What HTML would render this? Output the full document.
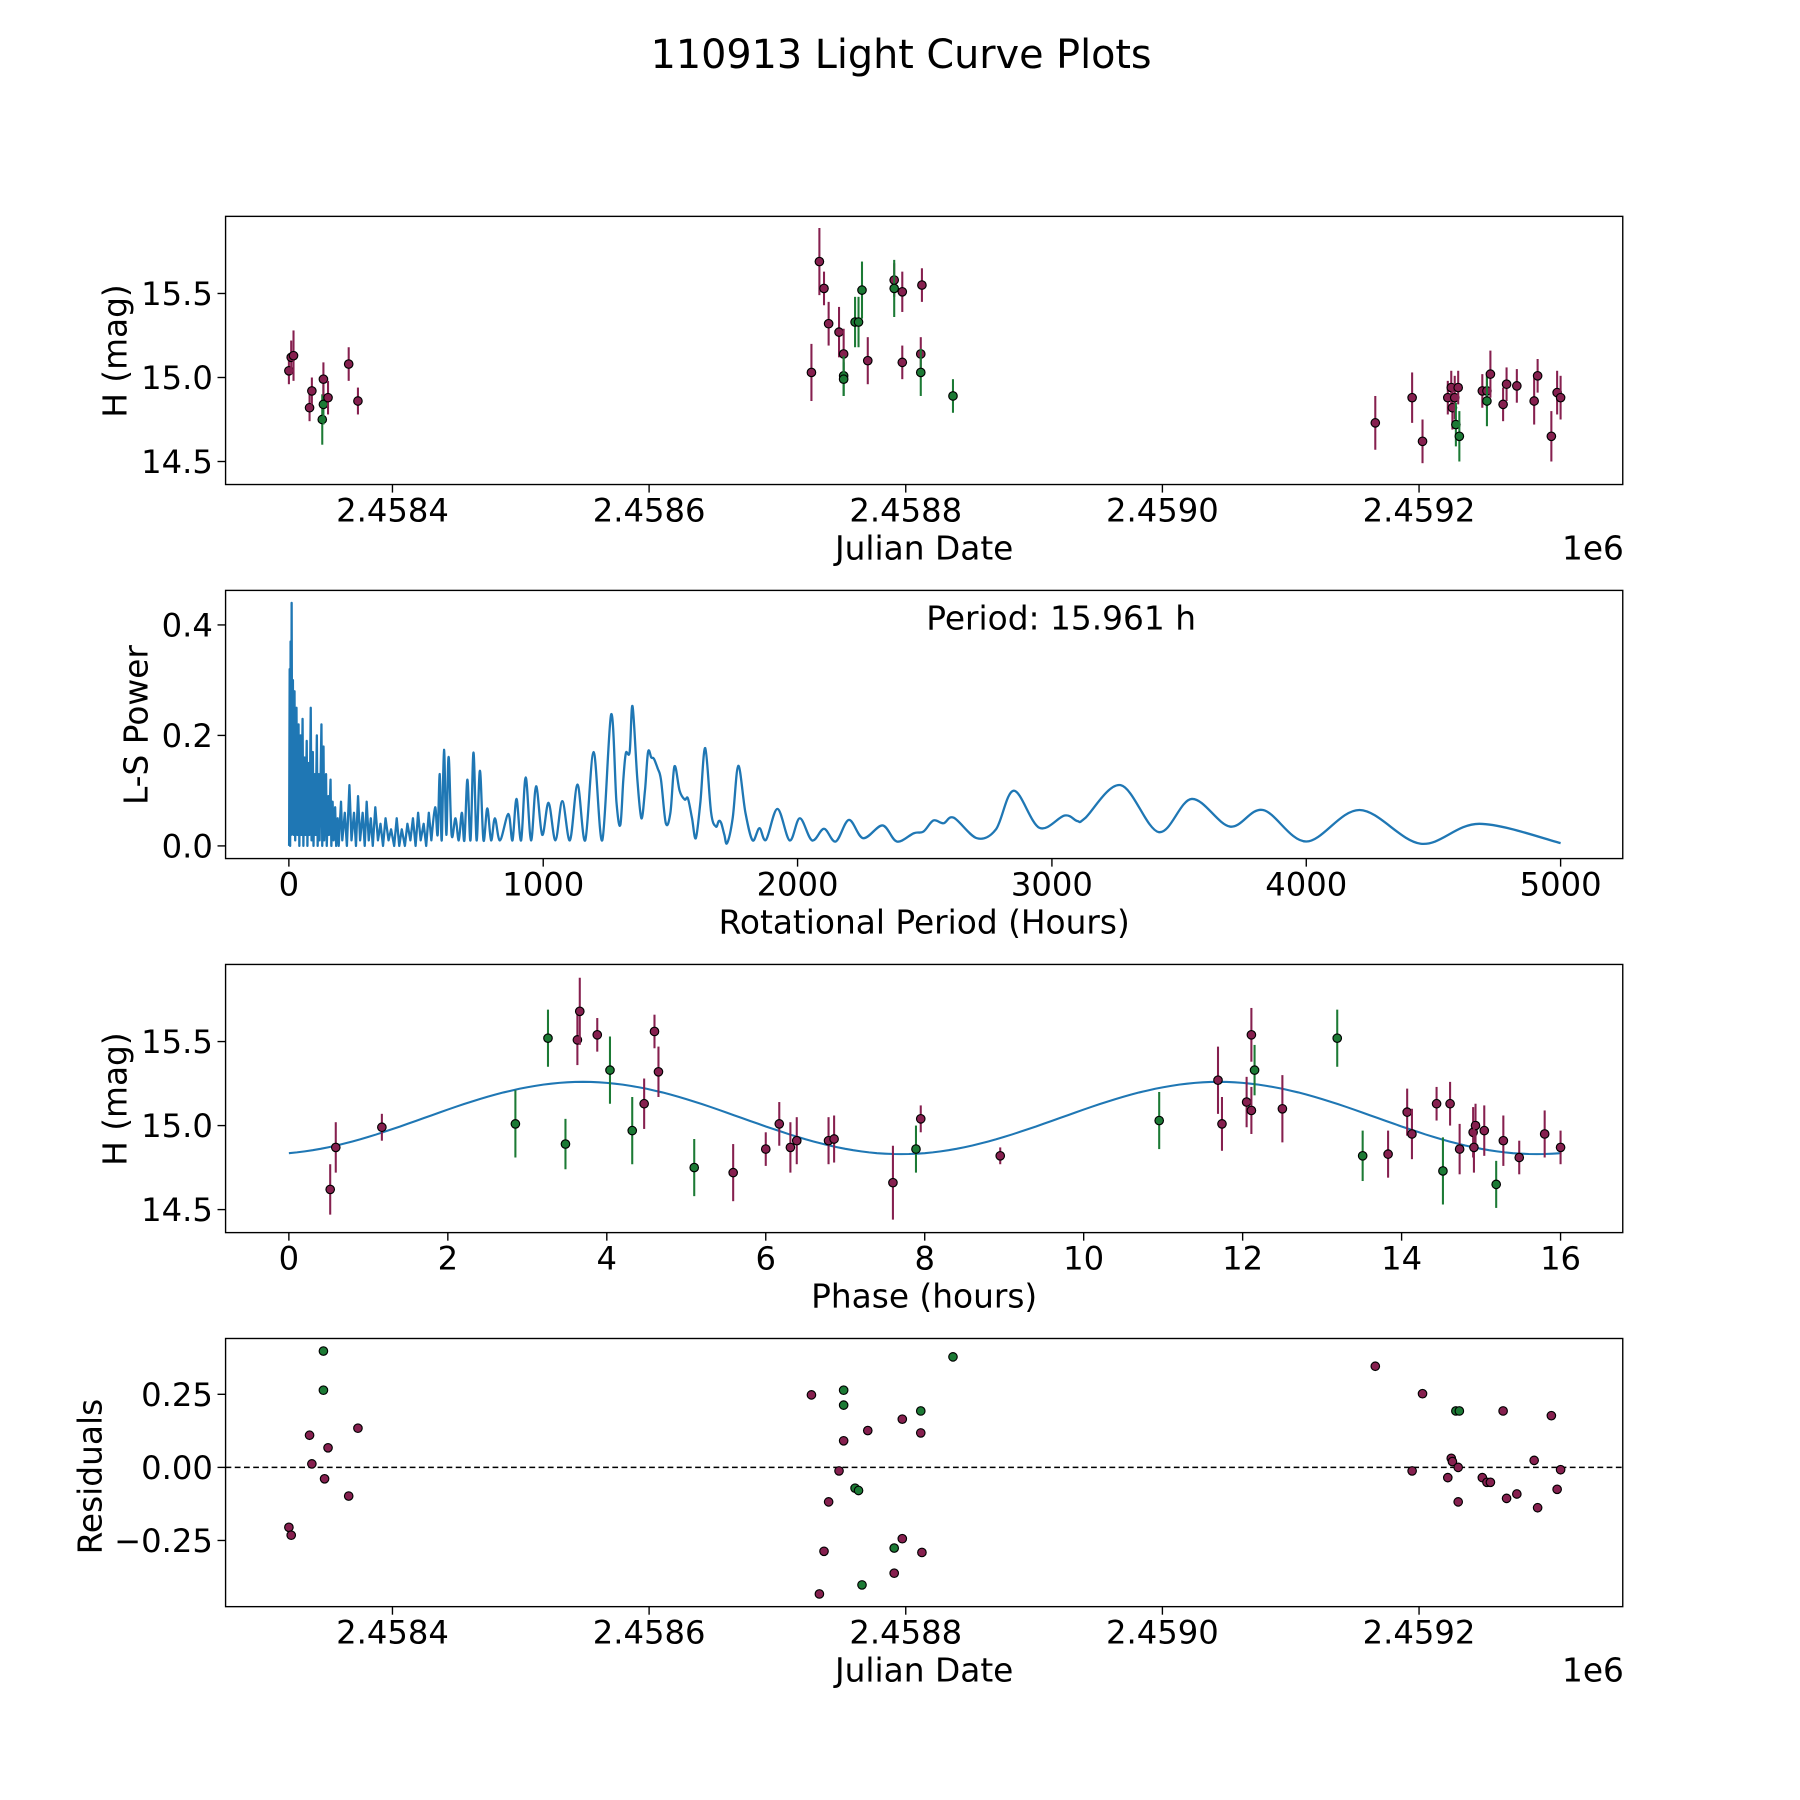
<!DOCTYPE html>
<html><head><meta charset="utf-8"><title>110913 Light Curve Plots</title>
<style>
html,body{margin:0;padding:0;background:#fff;}
svg{display:block;font-family:"DejaVu Sans","Liberation Sans",sans-serif;}
</style></head>
<body>
<svg id="fig" width="1800" height="1800" viewBox="0 0 1564 1564" xmlns="http://www.w3.org/2000/svg">
<rect x="0" y="0" width="1564" height="1564" fill="#fff"/>
<text x="783" y="59" font-size="34.5" text-anchor="middle">110913 Light Curve Plots</text>
<g id="p1"></g>
<g id="p2"></g>
<g id="p3"></g>
<g id="p4"></g>
</svg>
<script>
// ---- light curve data (JD - 2458000) ----
const jdDays=[319.3,321.1,322.9,335.4,337.2,345.3,346.2,346.2,349.8,365.9,373.1,
726.5,732.7,736.3,739.9,748.0,751.6,751.6,751.6,760.5,763.2,765.9,770.4,791.0,791.0,797.3,797.3,811.7,812.6,811.7,836.8,
1165.9,1194.6,1202.7,1222.4,1225.1,1226.0,1227.8,1228.7,1230.5,1231.4,1249.3,1252.9,1252.9,1255.6,1265.5,1268.2,1276.2,1289.7,1292.4,1303.1,1307.6,1310.3];
const hMag=[15.04,15.12,15.13,14.82,14.92,14.75,14.84,14.99,14.88,15.08,14.86,
15.03,15.69,15.53,15.32,15.27,15.14,15.01,14.99,15.33,15.33,15.52,15.10,15.58,15.53,15.51,15.09,15.14,15.55,15.03,14.89,
14.73,14.88,14.62,14.88,14.94,14.82,14.88,14.72,14.94,14.65,14.92,14.92,14.86,15.02,14.84,14.96,14.95,14.86,15.01,14.65,14.91,14.88];
const hErr=[0.08,0.1,0.15,0.08,0.08,0.15,0.12,0.1,0.1,0.1,0.08,
0.17,0.2,0.1,0.13,0.15,0.15,0.12,0.1,0.15,0.15,0.17,0.14,0.1,0.17,0.12,0.1,0.1,0.1,0.14,0.1,
0.16,0.15,0.13,0.1,0.1,0.13,0.13,0.13,0.1,0.15,0.1,0.1,0.15,0.14,0.1,0.1,0.1,0.14,0.1,0.15,0.13,0.13];
const hFilter=['m','m','m','m','m','g','g','m','m','m','m',
'm','m','m','m','m','m','g','g','g','g','g','m','m','g','m','m','m','m','g','g',
'm','m','m','m','m','m','m','g','m','g','m','m','g','m','m','m','m','m','m','m','m','m'];
// ---- periodogram (hours, power) ----
const lsPeriod=[1,3,5,7,9,11,13,16,18,22,25,30,33,38,41,46,49,54,57,62,65,70,73,78,81,86,89,94,97,102,105,110,113,118,121,128,131,136,139,146,149,155,158,164,167,172,176,182,186,192,196,
205,210,220,228,238,246,256,264,272,280,290,298,306,314,322,330,340,350,360,370,380,392,402,414,424,434,444,456,466,478,488,498,508,518,530,540,550];
const lsPower=[0.0,0.32,0.0,0.37,0.02,0.44,0.05,0.3,0.02,0.28,0.01,0.25,0.02,0.22,0.0,0.2,0.02,0.23,0.0,0.16,0.02,0.19,0.0,0.15,0.02,0.25,0.01,0.17,0.0,0.13,0.02,0.2,0.0,0.13,0.01,0.22,0.0,0.18,0.01,0.13,0.0,0.09,0.02,0.12,0.0,0.08,0.01,0.07,0.0,0.05,0.0,
0.08,0.01,0.06,0.0,0.11,0.01,0.06,0.0,0.09,0.01,0.06,0.0,0.08,0.01,0.05,0.0,0.07,0.01,0.04,0.0,0.05,0.01,0.03,0.0,0.05,0.0,0.03,0.0,0.04,0.01,0.05,0.0,0.06,0.01,0.04,0.0,0.06];
const lsSmoothPeriod=[560,575,585,593,601,610,619,628,640,655,668,680,690,702,714,726,738,751,765,780,795,810,830,863,879,895,913,931,952,972,996,1021,1048,1075,1105,1135,1165,1198,1232,1267,1288,1303,1315,1325,1340,1351,1370,1386,1400,1412,1425,1435,1450,1463,1482,1500,1516,1536,1556,1569,1585,1600,1618,1637,1660,1679,1690,1700,1712,1723,1745,1767,1795,1823,1850,1876,1921,1969,2009,2057,2104,2150,2202,2258,2334,2390,2457,2495,2534,2574,2614,2705,2780,2850,2950,3050,3100,3130,3270,3420,3550,3700,3830,4000,4210,4450,4680,5000];
const lsSmoothPower=[0.01,0.07,0.02,0.13,0.01,0.174,0.02,0.161,0.02,0.05,0.01,0.06,0.01,0.12,0.01,0.169,0.01,0.136,0.01,0.068,0.01,0.05,0.01,0.058,0.01,0.085,0.01,0.124,0.01,0.108,0.02,0.078,0.01,0.081,0.01,0.111,0.01,0.17,0.01,0.238,0.08,0.038,0.12,0.168,0.17,0.253,0.12,0.05,0.1,0.17,0.16,0.158,0.14,0.12,0.041,0.06,0.144,0.1,0.084,0.086,0.05,0.014,0.08,0.177,0.06,0.035,0.045,0.041,0.02,0.005,0.05,0.145,0.06,0.01,0.032,0.011,0.067,0.01,0.05,0.01,0.031,0.008,0.047,0.014,0.037,0.008,0.023,0.026,0.046,0.041,0.051,0.014,0.03,0.10,0.033,0.055,0.045,0.05,0.11,0.025,0.085,0.035,0.065,0.008,0.065,0.004,0.04,0.005];
const periodText="Period: 15.961 h";
// ---- phase folded ----
const phaseHrs=[0.52,0.59,1.17,2.85,3.26,3.48,3.63,3.66,3.88,4.04,4.32,4.47,4.60,4.65,5.10,5.59,6.00,6.17,6.31,6.39,6.79,6.86,7.60,7.89,7.95,8.95,10.95,11.69,11.74,12.05,12.11,12.11,12.15,12.50,13.19,13.51,13.83,14.07,14.13,14.44,14.52,14.61,14.73,14.90,14.93,14.91,15.04,15.19,15.28,15.48,15.80,16.00];
const phaseMag=[14.62,14.87,14.99,15.01,15.52,14.89,15.51,15.68,15.54,15.33,14.97,15.13,15.56,15.32,14.75,14.72,14.86,15.01,14.87,14.91,14.91,14.92,14.66,14.86,15.04,14.82,15.03,15.27,15.01,15.14,15.54,15.09,15.33,15.10,15.52,14.82,14.83,15.08,14.95,15.13,14.73,15.13,14.86,14.96,15.00,14.87,14.97,14.65,14.91,14.81,14.95,14.87];
const phaseErr=[0.15,0.15,0.08,0.2,0.17,0.15,0.15,0.2,0.1,0.2,0.2,0.15,0.1,0.15,0.17,0.17,0.1,0.13,0.15,0.14,0.14,0.14,0.22,0.14,0.08,0.05,0.17,0.2,0.16,0.15,0.16,0.14,0.15,0.2,0.17,0.15,0.14,0.14,0.15,0.1,0.2,0.13,0.15,0.15,0.13,0.15,0.15,0.14,0.15,0.1,0.14,0.1];
const phaseFilter=['m','m','m','g','g','g','m','m','m','g','g','m','m','m','g','m','m','m','m','m','m','m','m','g','m','m','g','m','m','m','m','m','g','m','g','g','m','m','m','m','g','m','m','m','m','m','m','g','m','m','m','m'];
const fitMean=[15.045], fitAmp=[0.215], fitShift=[1.7], fitHalfPeriod=[8];
// ---- residuals ----
const resDays=[319.3,321.1,335.4,337.2,346.2,346.2,347.1,349.8,365.9,373.1,
726.5,732.7,736.3,739.9,748.0,751.6,751.6,751.6,760.5,763.2,765.9,770.4,791.0,791.0,797.3,797.3,811.7,812.6,811.7,836.8,
1165.9,1194.6,1202.7,1222.4,1225.1,1226.0,1228.7,1230.5,1230.5,1231.4,1249.3,1252.9,1255.6,1265.5,1268.2,1276.2,1289.7,1292.4,1303.1,1307.6,1310.3];
const resVal=[-0.205,-0.232,0.110,0.012,0.398,0.264,-0.039,0.067,-0.098,0.134,
0.248,-0.433,-0.287,-0.118,-0.012,0.091,0.264,0.213,-0.071,-0.079,-0.402,0.126,-0.276,-0.362,0.165,-0.244,0.118,-0.291,0.193,0.378,
0.346,-0.012,0.252,-0.035,0.031,0.020,0.193,0.0,-0.118,0.193,-0.035,-0.051,-0.051,0.193,-0.106,-0.091,0.024,-0.138,0.177,-0.075,-0.008];
const resFilter=['m','m','m','m','g','g','m','m','m','m',
'm','m','m','m','m','m','g','g','g','g','g','m','g','m','m','m','m','m','g','g',
'm','m','m','m','m','m','g','m','m','g','m','m','m','m','m','m','m','m','m','m','m'];
const jdTicks=[400,600,800,1000,1200];
const jdTickLabels=["2.4584","2.4586","2.4588","2.4590","2.4592"];
const magTicks=[15.5,15.0,14.5];
const magTickLabels=["15.5","15.0","14.5"];
const powTicks=[0,0.2,0.4];
const powTickLabels=["0.0","0.2","0.4"];
const perTicks=[0,1000,2000,3000,4000,5000];
const phTicks=[0,2,4,6,8,10,12,14,16];
const resTicks=[0.25,0,-0.25];
const resTickLabels=["0.25","0.00","\u22120.25"];

const NS="http://www.w3.org/2000/svg";
const COL={m:"#86204f",g:"#1c7a35"};
const TFS=28, LFS=28.5;
function mk(parent,tag,attrs){const e=document.createElementNS(NS,tag);for(const k in attrs)e.setAttribute(k,attrs[k]);parent.appendChild(e);return e;}
const L=196,R=1410;
const xJD=d=>341+(d-400)*1.115;
function yMagF(top){const y15=top+140;return m=>y15-(m-15)*146;}
const y1=yMagF(188);
const y3=yMagF(838);
const xPer=p=>251+p*0.221;
const yPow=v=>735-v*480;
const xPh=t=>251+t*69.06;
const yRes=v=>1275-v*254;

function frame(g,top,name){
  const r=mk(g,'rect',{x:L,y:top,width:R-L,height:233,fill:'none',stroke:'#000','stroke-width':1.2});
  
  
}
function xTicks(g,top,vals,labels,fx,name){
  vals.forEach((v,i)=>{
    const x=fx(v);
    const t=mk(g,'line',{x1:x,x2:x,y1:top+233,y2:top+240,stroke:'#000','stroke-width':1.2});
    
    
    const tx=mk(g,'text',{x:x,y:top+265,'font-size':TFS,'text-anchor':'middle'});
    tx.textContent=labels[i];
    
    
  });
}
function yTicks(g,vals,labels,fy,name){
  vals.forEach((v,i)=>{
    const y=fy(v);
    const t=mk(g,'line',{x1:L-7,x2:L,y1:y,y2:y,stroke:'#000','stroke-width':1.2});
    
    
    const tx=mk(g,'text',{x:L-11,y:y+10,'font-size':TFS,'text-anchor':'end'});
    tx.textContent=labels[i];
    
    
  });
}
function label(g,x,y,txt,rot,name,anchor){
  const t=mk(g,'text',{x:x,y:y,'font-size':LFS,'text-anchor':anchor||'middle'});
  if(rot)t.setAttribute('transform','rotate(-90 '+x+' '+y+')');
  t.textContent=txt;
  
  
}
function point(g,x,y,c,err,fy,v,name){
  if(err){
    const l=mk(g,'line',{x1:x,x2:x,y1:fy(v+err),y2:fy(v-err),stroke:COL[c],'stroke-width':1.8});
    
    
  }
  const p=mk(g,'circle',{cx:x,cy:y,r:3.7,fill:COL[c],stroke:'#000','stroke-width':1});
  
  
}

// Panel 1
(function(){
  const g=document.getElementById('p1'),top=188;
  frame(g,top,'light-curve');
  hMag.forEach((m,i)=>point(g,xJD(jdDays[i]),y1(m),hFilter[i],hErr[i],y1,m,'light-curve-point'));
  xTicks(g,top,jdTicks,jdTickLabels,xJD,'light-curve');
  yTicks(g,magTicks,magTickLabels,y1,'light-curve');
  label(g,803,486,'Julian Date',false,'x-axis-title');
  label(g,1411,486,'1e6',false,'x-offset-label','end');
  label(g,110,305,'H (mag)',true,'y-axis-title');
})();
// Panel 2
(function(){
  const g=document.getElementById('p2'),top=513;
  frame(g,top,'periodogram');
  let d='';
  lsPeriod.forEach((p,i)=>{d+=(i?'L':'M')+xPer(p).toFixed(1)+' '+yPow(lsPower[i]).toFixed(1)+' ';});
  const pts=lsSmoothPeriod.map((p,i)=>[xPer(p),yPow(lsSmoothPower[i])]);
  d+='L'+pts[0][0].toFixed(1)+' '+pts[0][1].toFixed(1)+' ';
  for(let i=0;i<pts.length-1;i++){
    const p0=pts[Math.max(0,i-1)],p1=pts[i],p2=pts[i+1],p3=pts[Math.min(pts.length-1,i+2)];
    const c1=[p1[0]+(p2[0]-p0[0])/6,Math.min(735,p1[1]+(p2[1]-p0[1])/6)];
    const c2=[p2[0]-(p3[0]-p1[0])/6,Math.min(735,p2[1]-(p3[1]-p1[1])/6)];
    d+='C'+c1[0].toFixed(1)+' '+c1[1].toFixed(1)+' '+c2[0].toFixed(1)+' '+c2[1].toFixed(1)+' '+p2[0].toFixed(1)+' '+p2[1].toFixed(1)+' ';
  }
  const path=mk(g,'path',{d:d,fill:'none',stroke:'#1f77b4','stroke-width':2,'stroke-linejoin':'round'});
  
  
  xTicks(g,top,perTicks,perTicks.map(String),xPer,'periodogram');
  yTicks(g,powTicks,powTickLabels,yPow,'periodogram');
  label(g,803,811,'Rotational Period (Hours)',false,'x-axis-title');
  label(g,128,630,'L-S Power',true,'y-axis-title');
  label(g,922,547,periodText,false,'period-annotation');
})();
// Panel 3
(function(){
  const g=document.getElementById('p3'),top=838;
  frame(g,top,'phase');
  let d='';
  for(let k=0;k<=160;k++){
    const t=k*0.1;
    const m=fitMean[0]+fitAmp[0]*Math.sin(2*Math.PI*(t-fitShift[0])/fitHalfPeriod[0]);
    d+=(k?'L':'M')+xPh(t).toFixed(1)+' '+y3(m).toFixed(1)+' ';
  }
  const path=mk(g,'path',{d:d,fill:'none',stroke:'#1f77b4','stroke-width':1.8});
  
  
  phaseMag.forEach((m,i)=>point(g,xPh(phaseHrs[i]),y3(m),phaseFilter[i],phaseErr[i],y3,m,'phase-point'));
  xTicks(g,top,phTicks,phTicks.map(String),xPh,'phase');
  yTicks(g,magTicks,magTickLabels,y3,'phase');
  label(g,803,1136,'Phase (hours)',false,'x-axis-title');
  label(g,110,955,'H (mag)',true,'y-axis-title');
})();
// Panel 4
(function(){
  const g=document.getElementById('p4'),top=1163;
  frame(g,top,'residuals');
  const z=mk(g,'line',{x1:L,x2:R,y1:yRes(0),y2:yRes(0),stroke:'#000','stroke-width':1.3,'stroke-dasharray':'5,3'});
  
  
  resVal.forEach((v,i)=>point(g,xJD(resDays[i]),yRes(v),resFilter[i],0,yRes,v,'residual-point'));
  xTicks(g,top,jdTicks,jdTickLabels,xJD,'residuals');
  yTicks(g,resTicks,resTickLabels,yRes,'residuals');
  label(g,803,1461,'Julian Date',false,'x-axis-title');
  label(g,1411,1461,'1e6',false,'x-offset-label','end');
  label(g,88,1283,'Residuals',true,'y-axis-title');
})();
</script>
</body></html>
